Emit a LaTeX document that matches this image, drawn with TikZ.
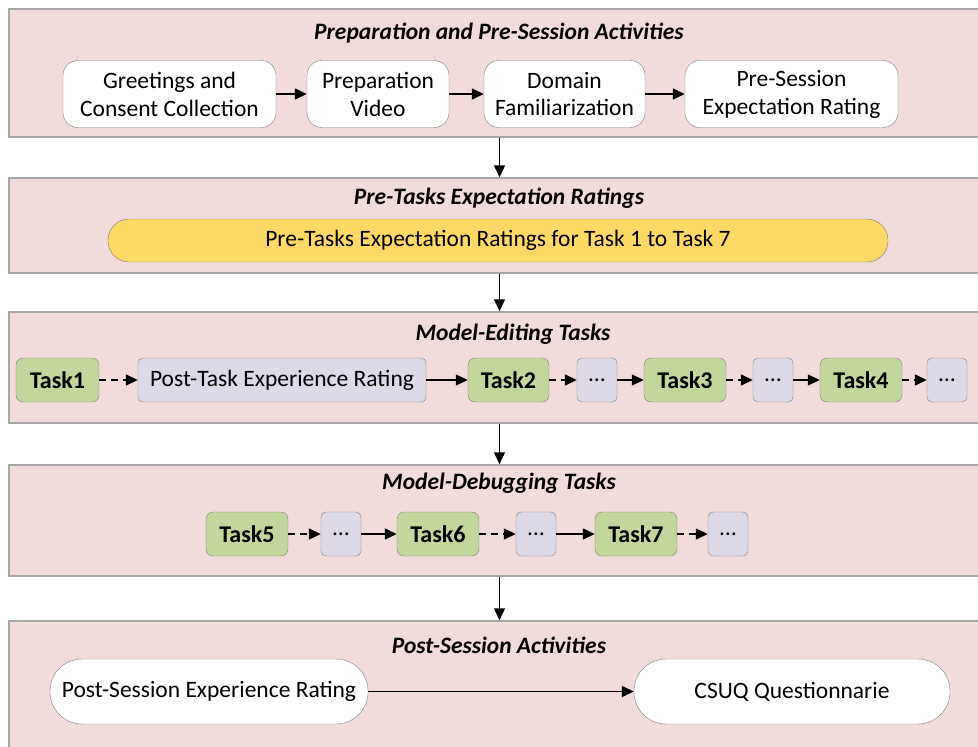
\documentclass[tikz,border=0pt]{standalone}
\usepackage{fontspec}
\setmainfont{Carlito}
\usetikzlibrary{arrows.meta}

\definecolor{panelfill}{HTML}{F2DCDB}
\definecolor{panelline}{HTML}{A6A6A6}
\definecolor{taskgreen}{HTML}{C3D69B}
\definecolor{ratepurple}{HTML}{DDD9E6}
\definecolor{rateyellow}{HTML}{FFD966}
\definecolor{boxline}{HTML}{7F7F7F}

\begin{document}
\begin{tikzpicture}[x=1pt,y=-1pt,
    every node/.style={font=\fontsize{23.5}{28}\selectfont},
    panel/.style={draw=panelline,line width=1.5pt,fill=panelfill,inner sep=0,minimum width=981pt},
    heading/.style={font=\fontsize{23.5}{28}\selectfont\bfseries\itshape},
    stagebox/.style={draw=boxline,fill=white,rounded corners=15pt,inner sep=0,align=center,minimum height=67pt},
    pill/.style={draw=boxline,fill=white,rounded corners=32pt,inner sep=0,minimum height=65pt},
    taskbox/.style={draw=boxline,fill=taskgreen,rounded corners=7pt,inner sep=0,minimum width=82pt,minimum height=44pt,font=\fontsize{24}{28}\selectfont\bfseries},
    ratebox/.style={draw=boxline,fill=ratepurple,rounded corners=5pt,inner sep=0,minimum width=40pt,minimum height=44pt},
    arr/.style={-{Triangle[length=12pt,width=11pt]},line width=1.5pt},
    dasharr/.style={arr,dash pattern=on 7pt off 5pt}]
    \clip (0,0) rectangle (978,747);
    % stages
    \node[panel,minimum height=128pt] (p1) at (499.5,73) {};
    \node[panel,minimum height=95pt] (p2) at (499.5,225.5) {};
    \node[panel,minimum height=111pt] (p3) at (499.5,367.5) {};
    \node[panel,minimum height=111pt] (p4) at (499.5,520.5) {};
    \node[panel,minimum height=159pt] (p5) at (499.5,700.5) {};
    \foreach \a/\b in {p1/p2,p2/p3,p3/p4,p4/p5} { \draw[arr] (\a) -- (\b); }
    \node[heading] (h1) at (499,33) {Preparation and Pre-Session Activities};
    \node[heading] (h2) at (499,198) {Pre-Tasks Expectation Ratings};
    \node[heading] (h3) at (513,334) {Model-Editing Tasks};
    \node[heading] (h4) at (499,483) {Model-Debugging Tasks};
    \node[heading] (h5) at (499,645) {Post-Session Activities};
    % preparation
    \node[stagebox,minimum width=213pt] (greet) at (169.5,94) {Greetings and\\Consent Collection};
    \node[stagebox,minimum width=142pt] (video) at (378,94) {Preparation\\Video};
    \node[stagebox,minimum width=161pt] (domain) at (564.5,94) {Domain\\Familiarization};
    \node[stagebox,minimum width=213pt] (expect) at (791.5,94) {Pre-Session\\Expectation Rating};
    \draw[arr] (greet) -- (video);
    \draw[arr] (video) -- (domain);
    \draw[arr] (domain) -- (expect);
    % pre-task ratings
    \node[draw=boxline,fill=rateyellow,rounded corners=21pt,inner sep=0,minimum width=780pt,minimum height=43pt] (pretask) at (498,240.5) {Pre-Tasks Expectation Ratings for Task 1 to Task 7};
    % model editing
    \node[taskbox,minimum width=83pt] (t1) at (57.5,380) {Task1};
    \node[ratebox,minimum width=288pt] (posttask) at (282,380) {Post-Task Experience Rating};
    \node[taskbox,minimum width=81pt] (t2) at (508.5,380) {Task2};
    \node[ratebox] (d1) at (597,380) {…};
    \node[taskbox] (t3) at (685,380) {Task3};
    \node[ratebox] (d2) at (773,380) {…};
    \node[taskbox] (t4) at (861,380) {Task4};
    \node[ratebox] (d3) at (947,380) {…};
    \draw[dasharr] (t1) -- (posttask);
    \draw[arr] (posttask) -- (t2);
    \foreach \a/\b in {t2/d1,t3/d2,t4/d3} { \draw[dasharr] (\a) -- (\b); }
    \foreach \a/\b in {d1/t3,d2/t4} { \draw[arr] (\a) -- (\b); }
    % model debugging
    \node[taskbox] (t5) at (247,534) {Task5};
    \node[ratebox] (d4) at (341,534) {…};
    \node[taskbox] (t6) at (438,534) {Task6};
    \node[ratebox] (d5) at (536,534) {…};
    \node[taskbox] (t7) at (636,534) {Task7};
    \node[ratebox] (d6) at (728,534) {…};
    \foreach \a/\b in {t5/d4,t6/d5,t7/d6} { \draw[dasharr] (\a) -- (\b); }
    \foreach \a/\b in {d4/t6,d5/t7} { \draw[arr] (\a) -- (\b); }
    % post session
    \node[pill,minimum width=318pt] (postsession) at (209,691.5) {Post-Session Experience Rating};
    \node[pill,minimum width=316pt] (csuq) at (792,691.5) {CSUQ Questionnarie};
    \draw[arr] (postsession) -- (csuq);
\end{tikzpicture}
\end{document}
